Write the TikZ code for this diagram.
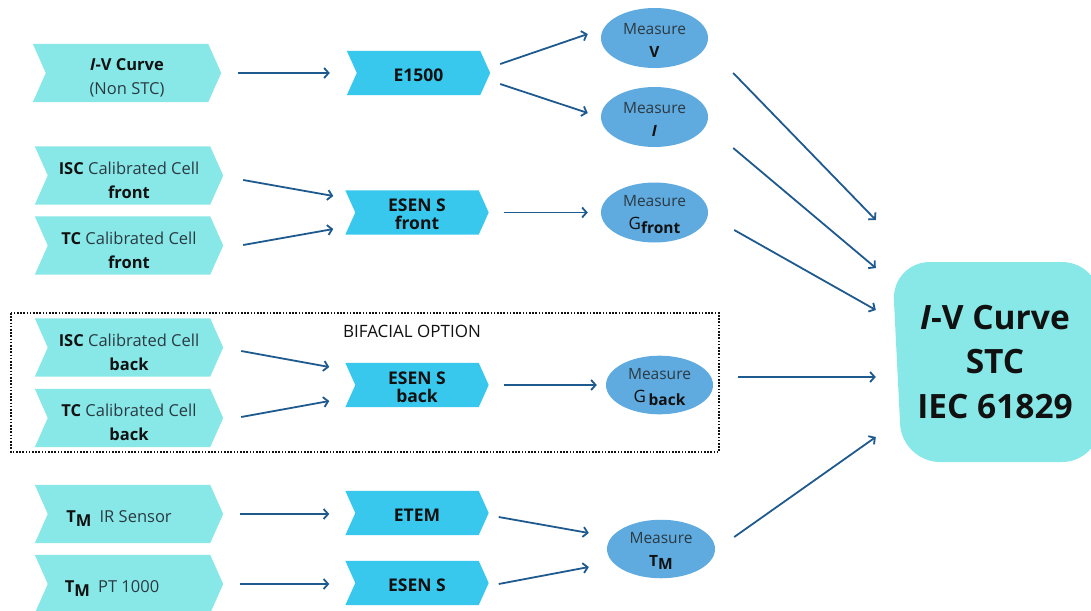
\documentclass[tikz,border=0pt]{standalone}
\usepackage{fontspec}
\setmainfont{Open Sans}
\usetikzlibrary{calc,backgrounds,arrows.meta,shapes.geometric}
\definecolor{inC}{HTML}{88E8E8}
\definecolor{midC}{HTML}{38C8EE}
\definecolor{ellC}{HTML}{5FAADF}
\definecolor{arrC}{HTML}{1F5A8F}
\definecolor{txtC}{HTML}{2B3A42}
\definecolor{bldC}{HTML}{111111}
\newcommand\chevbg[3]{%
  \begin{scope}[on background layer]
    \fill[#3] (#1.north west) -- ($(#1.north east)+(-#2,0)$) -- (#1.east)
      -- ($(#1.south east)+(-#2,0)$) -- (#1.south west) -- ($(#1.west)+(#2,0)$) -- cycle;
  \end{scope}}
\newcommand\lowsub[1]{\raisebox{-0.4ex}{#1}}
\newcommand\bk[1]{{\color{bldC}\bfseries #1}}
\newcommand\bigG{{\color{bldC}\fontsize{17}{20}\selectfont G}}
\newcommand\sta{\rule{0pt}{21.5pt}}
\newcommand\stb{\rule{0pt}{17pt}}
\newcommand\stc{\rule{0pt}{15pt}}
\begin{document}
\begin{tikzpicture}[x=1pt,y=-1pt,
  inbox/.style={minimum width=188pt, minimum height=58pt, inner sep=0pt, align=center,
    text=txtC, font=\fontsize{16.5}{24}\selectfont},
  midbox/.style={minimum width=143pt, minimum height=44pt, inner sep=0pt, align=center,
    text=bldC, font=\bfseries\fontsize{17.5}{18}\selectfont},
  meas/.style={ellipse, fill=ellC, minimum width=107pt, minimum height=60pt, inner sep=0pt,
    align=center, text=txtC, font=\fontsize{15.5}{23}\selectfont},
  arr/.style={draw=arrC, line width=1.8pt, -{Straight Barb[length=4.5pt,width=10pt]}},
]
\useasboundingbox (0,0) rectangle (1091,610);

% input chevrons
\node[inbox] (IV) at (127,73) {\sta\bk{\textit{I}-V Curve}\\(Non STC)};
\node[inbox] (iscF) at (129,175.5) {\sta\bk{ISC} Calibrated Cell\\\bk{front}};
\node[inbox] (tcF) at (129,245.5) {\sta\bk{TC} Calibrated Cell\\\bk{front}};
\node[inbox] (iscB) at (129,347.5) {\sta\bk{ISC} Calibrated Cell\\\bk{back}};
\node[inbox] (tcB) at (129,418) {\sta\bk{TC} Calibrated Cell\\\bk{back}};
\node[inbox] (ir) at (129,514) {\sta\hspace*{-20pt}\bk{T\lowsub{M}}\enspace IR Sensor};
\node[inbox] (pt) at (129,584) {\sta\hspace*{-34pt}\bk{T\lowsub{M}}\enspace PT 1000};
\foreach \n in {IV,iscF,tcF,iscB,tcB,ir,pt} {\chevbg{\n}{13}{inC}}

% middle chevrons
\node[midbox] (E1500) at (418.5,73) {\stb E1500};
\node[midbox] (esF) at (417,212.5) {\stb ESEN S\\front};
\node[midbox] (esB) at (417,385) {\stb ESEN S\\back};
\node[midbox] (etem) at (417,513) {\stb ETEM};
\node[midbox] (esS) at (417,583) {\stb ESEN S};
\foreach \n in {E1500,esF,esB,etem,esS} {\chevbg{\n}{10}{midC}}

% measures
\node[meas] (mV) at (654.5,38) {\stc Measure\\\bk{V}};
\node[meas] (mI) at (654.5,117) {\stc Measure\\\bk{\textit{I}}};
\node[meas] (mGf) at (654.5,212.5) {\stc Measure\\\bigG\lowsub{\bk{front}}};
\node[meas, minimum height=58pt] (mGb) at (659.5,385) {\stc Measure\\\bigG\,\lowsub{\bk{back}}};
\node[meas, minimum width=108pt, minimum height=56pt] (mT) at (661,549) {\stc Measure\\\bk{T\lowsub{M}}};

% result
\fill[inC, rounded corners=38pt] (892,262) -- (1100,262) -- (1100,462) -- (902,462) -- cycle;
\node[minimum width=206pt, minimum height=200pt, inner sep=0pt, align=center, text=bldC,
  font=\bfseries\fontsize{33.5}{44.5}\selectfont] (big) at (995,362)
  {\textit{I}-V Curve\\STC\\IEC 61829};

% bifacial frame
\draw[line width=1.6pt, dash pattern=on 1.6pt off 1.6pt, draw=bldC] (11,313) rectangle (719,452);
\node[text=bldC, font=\fontsize{17}{18}\selectfont] (bif) at (412,331) {BIFACIAL OPTION};

% connectors
\draw[arr] ($(IV.east)+(17,0)$) -- ($(E1500.west)+(-17,0)$);
\draw[arr] ($(E1500.east)+(10,-9)$) -- ($(mV.west)+(-13,-4)$);
\draw[arr] ($(E1500.east)+(10,11)$) -- ($(mI.west)+(-13,-4)$);
\draw[arr] ($(iscF.east)+(20,4.5)$) -- ($(esF.west)+(-12,-16.5)$);
\draw[arr] ($(tcF.east)+(20,-0.5)$) -- ($(esF.west)+(-12,16.5)$);
\draw[arr] ($(esF.east)+(15,0)$) -- ($(mGf.west)+(-13,0)$);
\draw[arr] ($(iscB.east)+(18,3.5)$) -- ($(esB.west)+(-16,-18)$);
\draw[arr] ($(tcB.east)+(18,-1)$) -- ($(esB.west)+(-16,16)$);
\draw[arr] ($(esB.east)+(15,0)$) -- ($(mGb.west)+(-9,0)$);
\draw[arr] ($(ir.east)+(17,0)$) -- ($(etem.west)+(-16,1)$);
\draw[arr] ($(pt.east)+(17,0)$) -- ($(esS.west)+(-16,1)$);
\draw[arr] ($(etem.east)+(10,4)$) -- ($(mT.west)+(-18,-16)$);
\draw[arr] ($(esS.east)+(10,1)$) -- ($(mT.west)+(-18,18)$);
\draw[arr] ($(mV.east)+(25,35)$) -- ($(big.west)+(-16,-142)$);
\draw[arr] ($(mI.east)+(25,31)$) -- ($(big.west)+(-16,-94)$);
\draw[arr] ($(mGf.east)+(26,17.5)$) -- ($(big.west)+(-16,-52)$);
\draw[arr] ($(mGb.east)+(25,-8)$) -- ($(big.west)+(-16,15)$);
\draw[arr] ($(mT.east)+(19,-12)$) -- ($(big.west)+(-16,75)$);
\end{tikzpicture}
\end{document}
